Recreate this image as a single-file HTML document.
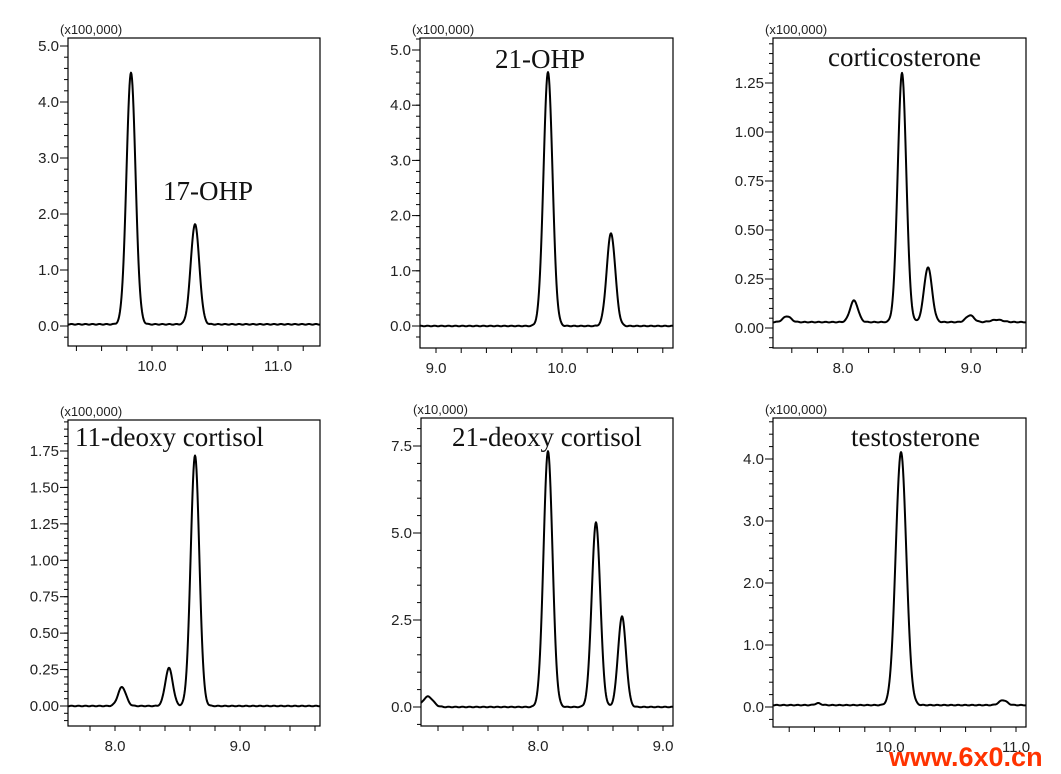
<!DOCTYPE html>
<html><head><meta charset="utf-8"><style>
html,body{margin:0;padding:0;background:#fff;width:1061px;height:774px;overflow:hidden}
svg{display:block}
.t{font-family:"Liberation Sans",Arial,sans-serif;font-size:15px;fill:#222}
.u{font-family:"Liberation Sans",Arial,sans-serif;font-size:13px;fill:#222}
.ti{font-family:"Liberation Serif","Times New Roman",serif;font-size:27px;fill:#111}
</style></head><body>
<svg id="s" width="1061" height="774" xmlns="http://www.w3.org/2000/svg"></svg>
<script>
var P=[
 {x0:68,x1:320,y0:38,y1:346,unit:"(x100,000)",yt:[[0,326],[5,46]],yl:["0.0","1.0","2.0","3.0","4.0","5.0"],ys:1,ym:0.2,
  xl:[[152,"10.0"],[278,"11.0"]],xstep:25.2,base:0.03,pk:[[131,4.5,4.5],[195,1.79,4.3]],title:["17-OHP",163,200]},
 {x0:420,x1:673,y0:38,y1:348,unit:"(x100,000)",yt:[[0,326],[5,50]],yl:["0.0","1.0","2.0","3.0","4.0","5.0"],ys:1,ym:0.2,
  xl:[[436,"9.0"],[562,"10.0"]],xstep:25.2,base:0.0,pk:[[548,4.6,4.5],[611,1.68,4.3]],title:["21-OHP",495,68]},
 {x0:773,x1:1026,y0:38,y1:348,unit:"(x100,000)",yt:[[0,328],[1.25,83]],yl:["0.00","0.25","0.50","0.75","1.00","1.25"],ys:0.25,ym:0.05,
  xl:[[843,"8.0"],[971,"9.0"]],xstep:25.6,base:0.03,pk:[[787,0.03,4],[854,0.11,4],[902,1.27,4.3],[928,0.28,4],[970,0.035,4],[997,0.012,6]],title:["corticosterone",828,66]},
 {x0:68,x1:320,y0:420,y1:726,unit:"(x100,000)",yt:[[0,706],[1.75,451]],yl:["0.00","0.25","0.50","0.75","1.00","1.25","1.50","1.75"],ys:0.25,ym:0.05,
  xl:[[115,"8.0"],[240,"9.0"]],xstep:25,base:0.0,pk:[[122,0.13,4],[169,0.26,3.8],[195,1.72,4.3]],title:["11-deoxy cortisol",75,446]},
 {x0:421,x1:673,y0:418,y1:726,unit:"(x10,000)",yt:[[0,707],[7.5,446]],yl:["0.0","2.5","5.0","7.5"],ys:2.5,ym:0.5,
  xl:[[538,"8.0"],[663,"9.0"]],xstep:25,base:0.0,pk:[[428,0.3,5],[548,7.35,4.5],[596,5.3,4.3],[622,2.6,4]],title:["21-deoxy cortisol",452,446]},
 {x0:773,x1:1026,y0:418,y1:727,unit:"(x100,000)",yt:[[0,707],[4,459]],yl:["0.0","1.0","2.0","3.0","4.0"],ys:1,ym:0.2,
  xl:[[890,"10.0"],[1016,"11.0"]],xstep:25.2,base:0.03,pk:[[818,0.03,3],[901,4.08,5.3],[1003,0.08,4]],title:["testosterone",851,446]}
];
var h="";
P.forEach(function(p){
 var v0=p.yt[0][1],v1=p.yt[1][1],d1=p.yt[1][0];
 function Y(v){return v0+(v1-v0)*v/d1;}
 h+='<rect x="'+p.x0+'" y="'+p.y0+'" width="'+(p.x1-p.x0)+'" height="'+(p.y1-p.y0)+'" fill="none" stroke="#000" stroke-width="1.2"/>';
 h+='<text class="u" x="'+(p.x0-8)+'" y="'+(p.y0-4)+'">'+p.unit+'</text>';
 for(var v=-1;v<=d1*1.5;v+=p.ym){var yy=Y(v);if(yy<p.y0||yy>p.y1)continue;
   h+='<line x1="'+(p.x0-4)+'" x2="'+p.x0+'" y1="'+yy.toFixed(1)+'" y2="'+yy.toFixed(1)+'" stroke="#000"/>';}
 p.yl.forEach(function(l,i){var yy=Y(i*p.ys);
   h+='<line x1="'+(p.x0-8)+'" x2="'+p.x0+'" y1="'+yy+'" y2="'+yy+'" stroke="#000"/>';
   h+='<text class="t" text-anchor="end" x="'+(p.x0-9)+'" y="'+(yy+5)+'">'+l+'</text>';});
 var s=p.xl[0][0];while(s-p.xstep>p.x0)s-=p.xstep;
 for(var x=s;x<p.x1;x+=p.xstep)h+='<line x1="'+x.toFixed(1)+'" x2="'+x.toFixed(1)+'" y1="'+p.y1+'" y2="'+(p.y1+5)+'" stroke="#000"/>';
 p.xl.forEach(function(l){h+='<text class="t" text-anchor="middle" x="'+l[0]+'" y="'+(p.y1+25)+'">'+l[1]+'</text>';});
 var pts=[];
 for(var x=p.x0;x<=p.x1;x+=0.5){var v=p.base+0.0012*Math.sin(x*0.9)*(d1);
   p.pk.forEach(function(k){v+=k[1]*Math.exp(-Math.pow((x-k[0])/k[2],2)/2);});
   pts.push(x.toFixed(1)+','+Y(v).toFixed(1));}
 h+='<polyline points="'+pts.join(' ')+'" fill="none" stroke="#000" stroke-width="2" stroke-linejoin="round"/>';
 h+='<text class="ti" x="'+p.title[1]+'" y="'+p.title[2]+'">'+p.title[0]+'</text>';
});
h+='<text x="889" y="766" style="font-family:\'Liberation Sans\',Arial,sans-serif;font-weight:bold;font-size:27px;fill:#ff3300">www.6x0.cn</text>';
document.getElementById("s").innerHTML=h;
</script>
</body></html>
